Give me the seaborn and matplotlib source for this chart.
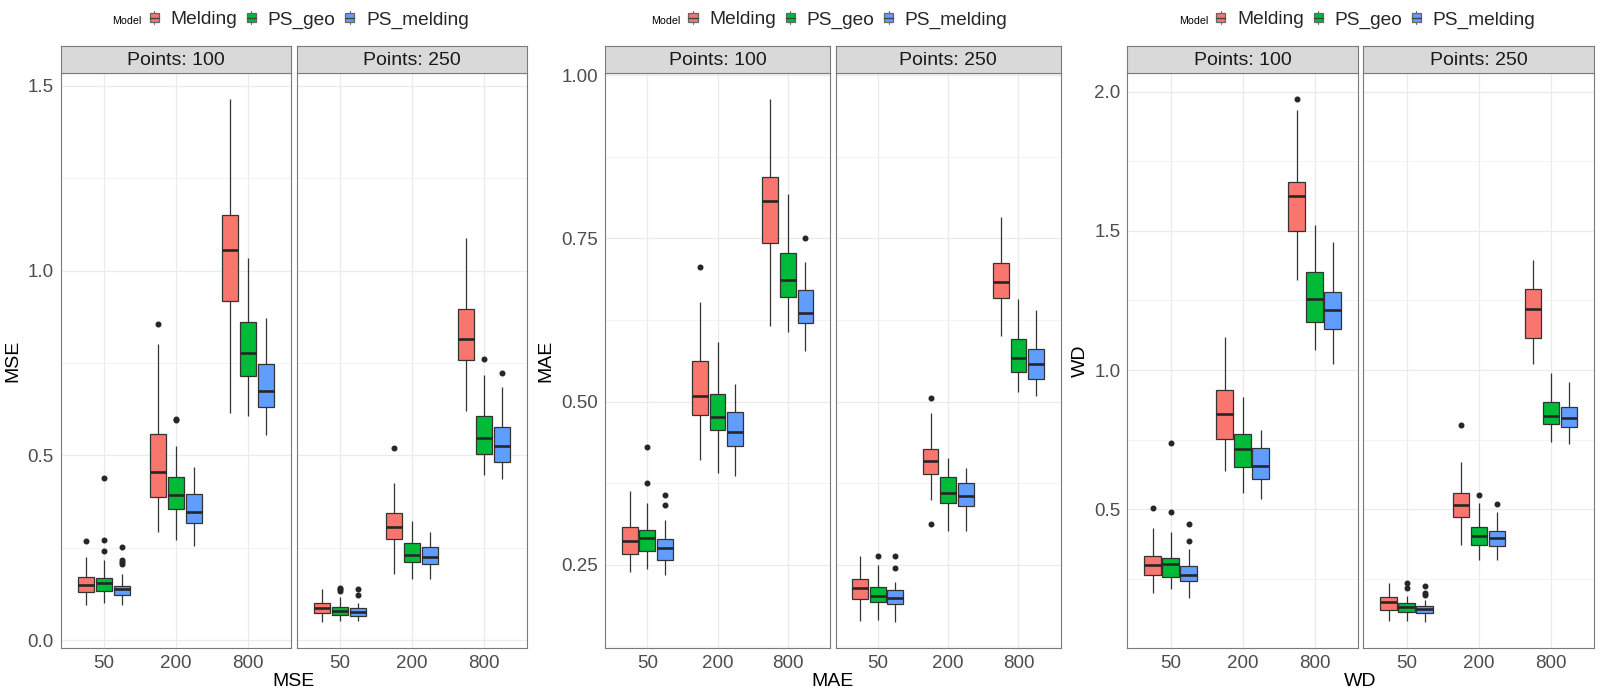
import numpy as np
import pandas as pd
import matplotlib
matplotlib.use("Agg")
import matplotlib.pyplot as plt
from matplotlib.legend_handler import HandlerBase
from matplotlib.patches import Rectangle, Patch
from matplotlib.lines import Line2D
from matplotlib.ticker import MultipleLocator, FormatStrFormatter
import seaborn as sns

# ---------------- data ----------------
MODELS = ["Melding", "PS_geo", "PS_melding"]
SAMPLES = ["50", "200", "800"]
POINTS = ["100", "250"]
COLORS = ["#F8766D", "#00BA38", "#619CFF"]

# Box order: Points 100 then 250; within each: samples 50, 200, 800; within each: MODELS
# Each tuple: (lower whisker, Q1, median, Q3, upper whisker)
MSE_BOX = [
    (0.096, 0.131, 0.148, 0.170, 0.226), (0.100, 0.134, 0.155, 0.168, 0.218), (0.094, 0.122, 0.138, 0.146, 0.179),
    (0.293, 0.387, 0.454, 0.558, 0.800), (0.271, 0.354, 0.392, 0.440, 0.526), (0.255, 0.318, 0.346, 0.396, 0.469),
    (0.614, 0.918, 1.056, 1.150, 1.463), (0.605, 0.715, 0.778, 0.862, 1.033), (0.554, 0.632, 0.675, 0.747, 0.871),
    (0.050, 0.072, 0.088, 0.101, 0.137), (0.051, 0.068, 0.078, 0.090, 0.117), (0.051, 0.066, 0.075, 0.086, 0.099),
    (0.178, 0.273, 0.305, 0.345, 0.426), (0.164, 0.211, 0.230, 0.263, 0.322), (0.164, 0.205, 0.224, 0.252, 0.292),
    (0.621, 0.757, 0.815, 0.896, 1.088), (0.446, 0.504, 0.547, 0.605, 0.718), (0.436, 0.482, 0.524, 0.576, 0.686),
]
MSE_OUT = [
    [0.268], [0.242, 0.270, 0.439], [0.207, 0.212, 0.218, 0.253],
    [0.855], [0.595, 0.599], [],
    [], [], [],
    [], [0.134, 0.137, 0.142], [0.123, 0.139],
    [0.520], [], [],
    [], [0.760], [0.723],
]

MAE_BOX = [
    (0.239, 0.266, 0.286, 0.308, 0.363), (0.243, 0.271, 0.291, 0.304, 0.344), (0.235, 0.257, 0.275, 0.290, 0.318),
    (0.411, 0.480, 0.508, 0.562, 0.653), (0.390, 0.457, 0.476, 0.512, 0.592), (0.386, 0.432, 0.453, 0.484, 0.527),
    (0.616, 0.743, 0.808, 0.844, 0.963), (0.607, 0.660, 0.687, 0.728, 0.818), (0.578, 0.620, 0.636, 0.671, 0.714),
    (0.164, 0.197, 0.214, 0.228, 0.263), (0.165, 0.193, 0.202, 0.216, 0.250), (0.163, 0.190, 0.199, 0.211, 0.224),
    (0.350, 0.389, 0.409, 0.428, 0.483), (0.302, 0.345, 0.360, 0.384, 0.414), (0.302, 0.340, 0.356, 0.376, 0.399),
    (0.600, 0.658, 0.684, 0.713, 0.783), (0.514, 0.545, 0.567, 0.596, 0.657), (0.508, 0.535, 0.557, 0.581, 0.641),
]
MAE_OUT = [
    [], [0.376, 0.431], [0.342, 0.357],
    [0.707], [], [],
    [], [], [0.750],
    [], [0.264], [0.245, 0.264],
    [0.312, 0.505], [], [],
    [], [], [],
]

WD_BOX = [
    (0.200, 0.266, 0.300, 0.333, 0.432), (0.213, 0.258, 0.302, 0.326, 0.417), (0.182, 0.242, 0.263, 0.296, 0.357),
    (0.639, 0.752, 0.841, 0.927, 1.118), (0.559, 0.651, 0.715, 0.772, 0.905), (0.536, 0.609, 0.657, 0.721, 0.785),
    (1.322, 1.500, 1.626, 1.675, 1.935), (1.071, 1.171, 1.256, 1.354, 1.520), (1.023, 1.148, 1.215, 1.282, 1.459),
    (0.100, 0.139, 0.167, 0.185, 0.234), (0.100, 0.132, 0.151, 0.163, 0.189), (0.097, 0.127, 0.141, 0.153, 0.175),
    (0.371, 0.474, 0.517, 0.558, 0.669), (0.317, 0.371, 0.405, 0.435, 0.522), (0.318, 0.367, 0.398, 0.422, 0.490),
    (1.022, 1.116, 1.221, 1.293, 1.397), (0.741, 0.806, 0.836, 0.885, 0.989), (0.736, 0.795, 0.827, 0.867, 0.959),
]
WD_OUT = [
    [0.506], [0.490, 0.739], [0.386, 0.446],
    [], [], [],
    [1.972], [], [],
    [], [0.218, 0.236], [0.194, 0.201, 0.225],
    [0.803], [0.553], [0.519],
    [], [], [],
]

METRICS = [
    ("MSE", MSE_BOX, MSE_OUT, 0.5, 0.25, "%.1f"),
    ("MAE", MAE_BOX, MAE_OUT, 0.25, 0.125, "%.2f"),
    ("WD", WD_BOX, WD_OUT, 0.5, 0.25, "%.1f"),
]


def box_sample(stats, outliers):
    """Smallest sample whose boxplot statistics equal the read-off values."""
    lo, q1, med, q3, hi = stats
    low = sorted(o for o in outliers if o < q1)
    high = sorted(o for o in outliers if o > q3)
    m = max(len(low), len(high)) + 1
    vals = (low + [lo] + [q1] * (m - len(low)) + [med] * m + [q3] * m
            + [q3] * (m - len(high) - 1) + [hi] + high)
    return vals


def build_frame(boxes, outs):
    rows = []
    i = 0
    for p in POINTS:
        for s in SAMPLES:
            for mdl in MODELS:
                for v in box_sample(boxes[i], outs[i]):
                    rows.append({"Points": p, "Samples": s, "Model": mdl, "value": v})
                i += 1
    return pd.DataFrame(rows)


# ---------------- style ----------------
sns.set_style("white")
plt.rcParams["font.family"] = ["Liberation Sans", "DejaVu Sans"]

W, H = 1600, 700
fig = plt.figure(figsize=(16, 7), dpi=100)
fig.patch.set_facecolor("white")

PANELS = [(60.6, 291.1, 296.7, 527.3),
          (605.0, 830.1, 835.6, 1060.7),
          (1127.3, 1357.7, 1363.3, 1594.0)]
YLAB_X = [12.5, 546.0, 1080.0]
STRIP_TOP, PLOT_TOP, PLOT_BOT = 46.0, 73.3, 647.7
BORDER = "#7A7A7A"


def fig_rect(x0, x1, y0, y1):
    return [x0 / W, 1 - y1 / H, (x1 - x0) / W, (y1 - y0) / H]


class BoxKey(HandlerBase):
    def create_artists(self, legend, orig_handle, xdescent, ydescent,
                       width, height, fontsize, trans):
        fc = orig_handle.get_facecolor()
        x0, y0 = -xdescent, -ydescent
        rect = Rectangle((x0 + 0.1 * width, y0 + 0.12 * height), 0.8 * width, 0.76 * height,
                         facecolor=fc, edgecolor="#666666", lw=0.9, transform=trans)
        med = Line2D([x0 + 0.1 * width, x0 + 0.9 * width], [y0 + 0.5 * height] * 2,
                     color="#444444", lw=1.0, transform=trans)
        w1 = Line2D([x0 + 0.5 * width] * 2, [y0 - 0.02 * height, y0 + 0.12 * height],
                    color="#666666", lw=0.8, transform=trans)
        w2 = Line2D([x0 + 0.5 * width] * 2, [y0 + 0.88 * height, y0 + 1.02 * height],
                    color="#666666", lw=0.8, transform=trans)
        return [w1, w2, rect, med]


for (name, boxes, outs, major, minor, fmt), (a0, a1, b0, b1), ylx in zip(METRICS, PANELS, YLAB_X):
    df = build_frame(boxes, outs)
    allv = df["value"].to_numpy()
    vmin, vmax = allv.min(), allv.max()
    pad = (vmax - vmin) * 0.05
    ylim = (vmin - pad, vmax + pad)

    for k, (x0, x1) in enumerate([(a0, a1), (b0, b1)]):
        ax = fig.add_axes(fig_rect(x0, x1, PLOT_TOP, PLOT_BOT))
        sub = df[df["Points"] == POINTS[k]]
        sns.boxplot(data=sub, x="Samples", y="value", hue="Model", order=SAMPLES,
                    hue_order=MODELS, palette=COLORS, saturation=1, width=0.75, gap=0.1,
                    linewidth=0.9, linecolor="#333333", fliersize=3.3, whis=1.5,
                    showcaps=False,
                    medianprops=dict(linewidth=1.9, color="#262626"),
                    flierprops=dict(marker="o", markerfacecolor="#262626",
                                    markeredgecolor="#262626"),
                    legend=False, ax=ax)
        ax.set_xlim(-0.6, 2.6)
        ax.set_ylim(*ylim)
        ax.set_xlabel("")
        ax.set_ylabel("")
        ax.yaxis.set_major_locator(MultipleLocator(major))
        ax.yaxis.set_minor_locator(MultipleLocator(minor))
        ax.yaxis.set_major_formatter(FormatStrFormatter(fmt))
        ax.set_axisbelow(True)
        ax.grid(which="major", axis="both", color="#EBEBEB", lw=0.9)
        ax.grid(which="minor", axis="y", color="#EFEFEF", lw=0.5)
        ax.tick_params(axis="both", which="major", length=3, width=0.6, color="#333333",
                       labelsize=13.5, labelcolor="#4D4D4D", pad=2)
        ax.tick_params(axis="y", which="minor", length=0)
        if k == 1:
            ax.tick_params(axis="y", which="both", left=False, labelleft=False)
        for sp in ax.spines.values():
            sp.set_color(BORDER)
            sp.set_linewidth(0.8)
            sp.set_visible(True)

        sax = fig.add_axes(fig_rect(x0, x1, STRIP_TOP, PLOT_TOP))
        sax.set_facecolor("#D9D9D9")
        sax.set_xticks([])
        sax.set_yticks([])
        for sp in sax.spines.values():
            sp.set_color(BORDER)
            sp.set_linewidth(0.8)
            sp.set_visible(True)
        sax.text(0.5, 0.48, f"Points: {POINTS[k]}", transform=sax.transAxes,
                 ha="center", va="center", fontsize=14, color="#1A1A1A")

    cx = (a0 + b1) / 2
    fig.text(cx / W, 1 - 682 / H, name, ha="center", va="center", fontsize=14, color="black")
    fig.text(ylx / W, 1 - (PLOT_TOP + PLOT_BOT) / 2 / H, name, ha="center", va="center",
             rotation=90, fontsize=14, color="black")

    handles = [Patch(facecolor=c, edgecolor="#666666") for c in COLORS]
    key_x = cx - 145.5
    fig.legend(handles, MODELS, loc="center left", bbox_to_anchor=(key_x / W, 1 - 20 / H),
               ncol=3, frameon=False, fontsize=13.8, handlelength=0.59, handleheight=0.62,
               handletextpad=0.55, columnspacing=0.45, borderpad=0, borderaxespad=0,
               handler_map={Patch: BoxKey()})
    fig.text((key_x - 7) / W, 1 - 20.5 / H, "Model", ha="right", va="center",
             fontsize=7.7, color="black")

fig.savefig("out.png", dpi=100, facecolor="white")
